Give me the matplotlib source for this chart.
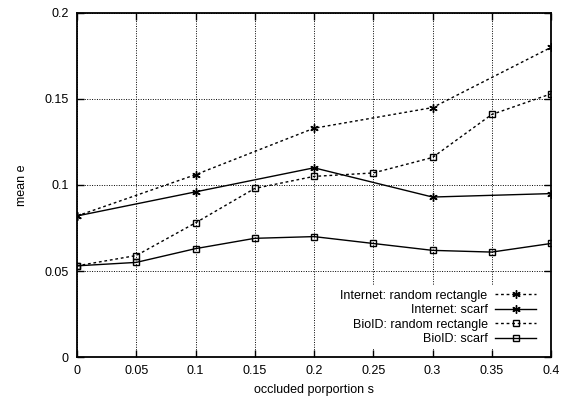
import matplotlib
matplotlib.use("Agg")
import matplotlib.pyplot as plt
from matplotlib.ticker import MultipleLocator

plt.rcParams.update({
    "font.family": ["Liberation Sans", "DejaVu Sans"],
    "font.size": 9,
})

X_RECT_NET = [0, 0.1, 0.2, 0.3, 0.4]
NET_RECT = [0.082, 0.106, 0.133, 0.145, 0.180]
X_SCARF_NET = [0, 0.1, 0.2, 0.3, 0.4]
NET_SCARF = [0.082, 0.096, 0.110, 0.093, 0.095]
X_BIOID = [0, 0.05, 0.1, 0.15, 0.2, 0.25, 0.3, 0.35, 0.4]
BIO_RECT = [0.053, 0.059, 0.078, 0.098, 0.105, 0.107, 0.116, 0.141, 0.153]
BIO_SCARF = [0.053, 0.055, 0.063, 0.069, 0.070, 0.066, 0.062, 0.061, 0.066]

fig = plt.figure(figsize=(5.68, 3.97), dpi=100)
ax = fig.add_axes([77 / 568, 40 / 397, 474 / 568, 344 / 397])

dash = (0, (2, 2))
star = (6, 2, 0)
ax.plot(X_RECT_NET, NET_RECT, color="black", lw=1, ls=dash, marker=star, ms=6,
        mew=1, label="Internet: random rectangle")
ax.plot(X_SCARF_NET, NET_SCARF, color="black", lw=1, ls="-", marker=star, ms=6,
        mew=1, label="Internet: scarf")
ax.plot(X_BIOID, BIO_RECT, color="black", lw=1, ls=dash, marker="s", ms=5,
        mfc="none", mew=1, label="BioID: random rectangle")
ax.plot(X_BIOID, BIO_SCARF, color="black", lw=1, ls="-", marker="s", ms=5,
        mfc="none", mew=1, label="BioID: scarf")

ax.set_xlim(0, 0.4)
ax.set_ylim(0, 0.2)
ax.xaxis.set_major_locator(MultipleLocator(0.05))
ax.yaxis.set_major_locator(MultipleLocator(0.05))
ax.xaxis.set_major_formatter(lambda v, p: f"{v:g}")
ax.yaxis.set_major_formatter(lambda v, p: f"{v:g}")
ax.tick_params(direction="in", top=True, right=True, length=5, width=1, pad=6)
ax.grid(True, color="black", ls=(0, (1, 1.5)), lw=0.7)
ax.set_axisbelow(True)
for s in ax.spines.values():
    s.set_linewidth(1.3)

ax.set_xlabel("occluded porportion s", labelpad=5)
ax.set_ylabel("mean e", labelpad=12)

leg = ax.legend(loc="lower right", markerfirst=False, frameon=True, fancybox=False,
                edgecolor="none", facecolor="white", framealpha=1, handlelength=3.3,
                handletextpad=0.6, labelspacing=0.2, borderpad=0.3,
                bbox_to_anchor=(0.99, 0.005))

fig.savefig("out.png")
